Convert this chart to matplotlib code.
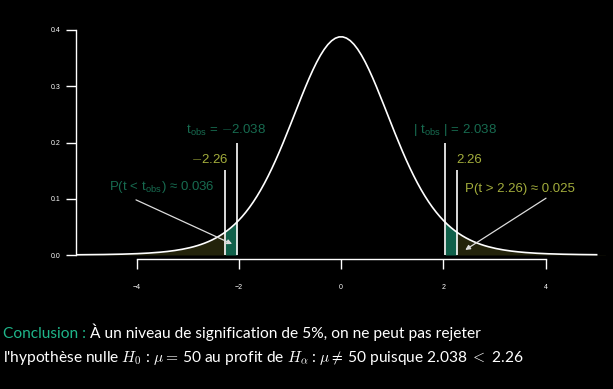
import math
import numpy as np
import matplotlib
matplotlib.use("Agg")
import matplotlib.pyplot as plt

# data
df = 9
t_obs = -2.038
t_crit = 2.26
p_obs = 0.036
p_crit = 0.025
x_ticks = [-4, -2, 0, 2, 4]
y_ticks = [0.0, 0.1, 0.2, 0.3, 0.4]

GREEN = "#176b50"
OLIVE = "#a3ad3c"
FILL_G = "#10604a"
FILL_O = "#23230b"
TEAL = "#1fb58a"


def dt(x, k):
    c = math.gamma((k + 1) / 2) / (math.sqrt(k * math.pi) * math.gamma(k / 2))
    return c * (1 + x ** 2 / k) ** (-(k + 1) / 2)


x = np.linspace(-5.15, 5.0, 140)
y = dt(x, df)

plt.rcParams["mathtext.fontset"] = "cm"
fig = plt.figure(figsize=(6.13, 3.89), dpi=100, facecolor="black")

# pixel -> data mapping of the R plot region
W, H = 613, 389
px0, py0, ux, uy = 341, 255, 51.125, 562.5
ax_l, ax_r, ax_t, ax_b = 60, 605, 20, 272
ax = fig.add_axes([ax_l / W, 1 - ax_b / H, (ax_r - ax_l) / W, (ax_b - ax_t) / H])
ax.set_facecolor("black")
ax.set_xlim((ax_l - px0) / ux, (ax_r - px0) / ux)
ax.set_ylim((py0 - ax_b) / uy, (py0 - ax_t) / uy)

# shaded tails
xl = np.linspace(-5.15, -abs(t_crit), 60)
ax.fill_between(xl, 0, dt(xl, df), color=FILL_O, lw=0)
xr = np.linspace(abs(t_crit), 5.3, 60)
ax.fill_between(xr, 0, dt(xr, df), color=FILL_O, lw=0)
xg = np.linspace(-t_crit, t_obs, 10)
ax.fill_between(xg, 0, dt(xg, df), color=FILL_G, lw=0)
xg2 = np.linspace(-t_obs, t_crit, 10)
ax.fill_between(xg2, 0, dt(xg2, df), color=FILL_G, lw=0)

ax.plot(x, y, color="white", lw=1.2)

# vertical markers
ax.vlines([-t_crit, t_crit], 0, 0.151, color="white", lw=1.2)
ax.vlines([t_obs, -t_obs], 0, 0.2, color="white", lw=1.2)

tfont = dict(family="Liberation Sans", fontsize=9.5)
ax.text(-2.24, 0.208, r"t$_{\mathregular{obs}}$ = $-$2.038", color=GREEN,
        ha="center", va="bottom", **tfont)
ax.text(2.23, 0.208, r"| t$_{\mathregular{obs}}$ | = 2.038", color=GREEN,
        ha="center", va="bottom", **tfont)
ax.text(-t_crit - 0.3, 0.158, r"$-$2.26", color=OLIVE, ha="center", va="bottom", **tfont)
ax.text(t_crit + 0.25, 0.158, "2.26", color=OLIVE, ha="center", va="bottom", **tfont)

ax.text(-3.51, 0.107, r"P(t < t$_{\mathregular{obs}}$) ≈ " + f"{p_obs:.3f}",
        color=GREEN, ha="center", va="bottom", **tfont)
ax.text(3.5, 0.107, f"P(t > {t_crit}) ≈ {p_crit:.3f}",
        color=OLIVE, ha="center", va="bottom", **tfont)
arrow = dict(arrowstyle="-|>", color="#dddddd", lw=0.9,
             mutation_scale=7, shrinkA=0, shrinkB=0)
ax.annotate("", xy=(-2.13, 0.0196), xytext=(-4.01, 0.098), arrowprops=arrow)
ax.annotate("", xy=(2.43, 0.009), xytext=(4.01, 0.101), arrowprops=arrow)

# R style axes
for s in ["top", "right"]:
    ax.spines[s].set_visible(False)
ax.spines["left"].set_position(("data", (76 - px0) / ux))
ax.spines["left"].set_bounds(0, 0.4)
ax.spines["bottom"].set_position(("data", (py0 - 259) / uy))
ax.spines["bottom"].set_bounds(-4, 4)
for s in ["left", "bottom"]:
    ax.spines[s].set_color("white")
    ax.spines[s].set_linewidth(1.0)
ax.set_xticks(x_ticks)
ax.set_xticklabels([str(v) if v >= 0 else "−" + str(-v) for v in x_ticks])
ax.set_yticks(y_ticks)
ax.set_yticklabels([f"{v:.1f}" for v in y_ticks])
ax.tick_params(axis="x", colors="white", length=7, width=1.0, pad=11, labelsize=5)
ax.tick_params(axis="y", colors="white", length=7, width=1.0, pad=4, labelsize=5)
for lab in ax.get_xticklabels() + ax.get_yticklabels():
    lab.set_family("Liberation Sans")

# conclusion text
fs = 11.2
t1 = fig.text(3 / W, 1 - 338 / H, "Conclusion : ", color=TEAL,
              family="Lato", fontsize=fs, ha="left", va="baseline")
fig.canvas.draw()
bb = t1.get_window_extent()
fig.text(bb.x1 / W, 1 - 338 / H,
         "À un niveau de signification de 5%, on ne peut pas rejeter",
         ha="left", va="baseline", family="Lato", fontsize=fs, color="white")
fig.text(3 / W, 1 - 362 / H,
         r"l'hypothèse nulle $H_0$ : $\mu =\,$50 au profit de $H_\alpha$ : "
         r"$\mu \neq\,$50 puisque 2.038$\;<\;$2.26",
         ha="left", va="baseline", family="Lato", fontsize=fs, color="white")

fig.savefig("out.png", dpi=100, facecolor="black")
